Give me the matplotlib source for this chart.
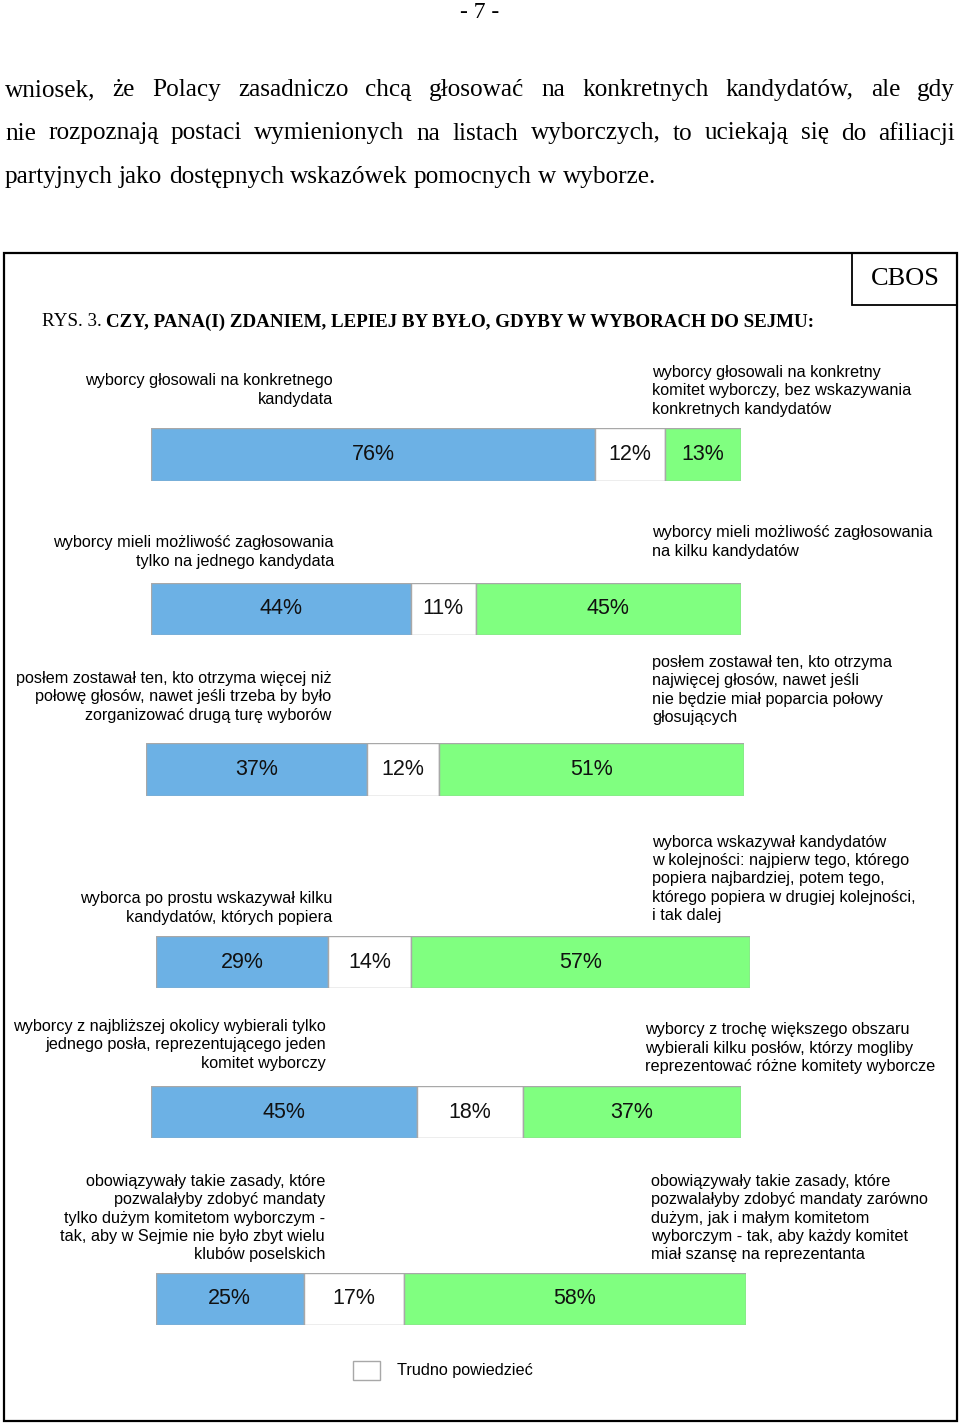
import matplotlib
matplotlib.use("Agg")
import matplotlib.pyplot as plt
from matplotlib.patches import Rectangle

# values for each question: [for first option, hard to say, for second option]
first_option = [76, 44, 37, 29, 45, 25]
hard_to_say = [12, 11, 12, 14, 18, 17]
second_option = [13, 45, 51, 57, 37, 58]

left_labels = [
    "wyborcy głosowali na konkretnego\nkandydata",
    "wyborcy mieli możliwość zagłosowania\ntylko na jednego kandydata",
    "posłem zostawał ten, kto otrzyma więcej niż\npołowę głosów, nawet jeśli trzeba by było\nzorganizować drugą turę wyborów",
    "wyborca po prostu wskazywał kilku\nkandydatów, których popiera",
    "wyborcy z najbliższej okolicy wybierali tylko\njednego posła, reprezentującego jeden\nkomitet wyborczy",
    "obowiązywały takie zasady, które\npozwalałyby zdobyć mandaty\ntylko dużym komitetom wyborczym -\ntak, aby w Sejmie nie było zbyt wielu\nklubów poselskich",
]
right_labels = [
    "wyborcy głosowali na konkretny\nkomitet wyborczy, bez wskazywania\nkonkretnych kandydatów",
    "wyborcy mieli możliwość zagłosowania\nna kilku kandydatów",
    "posłem zostawał ten, kto otrzyma\nnajwięcej głosów, nawet jeśli\nnie będzie miał poparcia połowy\ngłosujących",
    "wyborca wskazywał kandydatów\nw kolejności: najpierw tego, którego\npopiera najbardziej, potem tego,\nktórego popiera w drugiej kolejności,\ni tak dalej",
    "wyborcy z trochę większego obszaru\nwybierali kilku posłów, którzy mogliby\nreprezentować różne komitety wyborcze",
    "obowiązywały takie zasady, które\npozwalałyby zdobyć mandaty zarówno\ndużym, jak i małym komitetom\nwyborczym - tak, aby każdy komitet\nmiał szansę na reprezentanta",
]

intro_lines = [
    "wniosek, że Polacy zasadniczo chcą głosować na konkretnych kandydatów, ale gdy",
    "nie rozpoznają postaci wymienionych na listach wyborczych, to uciekają się do afiliacji",
    "partyjnych jako dostępnych wskazówek pomocnych w wyborze.",
]

BLUE = "#6cb1e5"
GREEN = "#80ff80"
EDGE = "#a8a8a8"
SERIF = "Liberation Serif"
SANS = "Liberation Sans"
LABEL_SIZE = 11.7

W, H = 960, 1424
fig = plt.figure(figsize=(W / 100, H / 100), dpi=100)
fig.patch.set_facecolor("white")


def px(x, y):
    # pixel coordinates (top-left origin) -> figure fraction
    return x / W, 1 - y / H


def put(x, y, s, **kw):
    fx, fy = px(x, y)
    return fig.text(fx, fy, s, **kw)


renderer = fig.canvas.get_renderer()

# page number
put(480, 12, "- 7 -", family=SERIF, fontsize=17, ha="center", va="center")

# justified intro paragraph
left_x, right_x = 5, 955
for i, line in enumerate(intro_lines):
    y = 90 + i * 43.5
    words = line.split(" ")
    objs = [put(0, y, w, family=SERIF, fontsize=18.2, va="center") for w in words]
    widths = [o.get_window_extent(renderer).width for o in objs]
    if i < len(intro_lines) - 1:
        gap = (right_x - left_x - sum(widths)) / (len(words) - 1)
    else:
        gap = objs[0].get_fontsize() * 100 / 72 * 0.25
    x = left_x
    for o, w in zip(objs, widths):
        o.set_position(px(x, y))
        x += w + gap

# frame and CBOS box
fig.add_artist(Rectangle(px(4, 1421), (957 - 4) / W, (1421 - 253) / H,
                         transform=fig.transFigure, fill=False, lw=1.6, ec="black"))
fig.add_artist(Rectangle(px(852, 305), (957 - 852) / W, (305 - 253) / H,
                         transform=fig.transFigure, fill=False, lw=1.3, ec="black"))
put(905, 279, "CBOS", family=SERIF, fontsize=19, ha="center", va="center")

# title: regular run followed by bold run
t1 = put(42, 322, "RYS. 3. ", family=SERIF, fontsize=13.7, va="center")
w1 = t1.get_window_extent(renderer).width
put(42 + w1, 322, "CZY, PANA(I) ZDANIEM, LEPIEJ BY BYŁO, GDYBY W WYBORACH DO SEJMU:",
    family=SERIF, fontsize=13.7, fontweight="bold", va="center")

# layout of each bar block (pixels)
bar_boxes = [(151, 428, 590, 53), (151, 583, 590, 52), (146, 743, 598, 53),
             (156, 936, 594, 52), (151, 1086, 590, 52), (156, 1273, 590, 52)]
left_anchor = [(333, 390), (334, 552), (331, 697), (332, 908), (326, 1045), (325, 1218)]
right_anchor = [(652, 391), (652, 542), (652, 690), (652, 879), (645, 1048), (651, 1218)]

for i in range(len(first_option)):
    x0, y0, bw, bh = bar_boxes[i]
    fx, fy = px(x0, y0 + bh)
    ax = fig.add_axes([fx, fy, bw / W, bh / H])
    vals = [first_option[i], hard_to_say[i], second_option[i]]
    cols = [BLUE, "white", GREEN]
    left = 0
    for v, c in zip(vals, cols):
        ax.barh(0, v, left=left, height=1, color=c, edgecolor=EDGE, lw=1)
        ax.text(left + v / 2, 0, f"{v}%", ha="center", va="center",
                family=SANS, fontsize=15.5, color="#111111")
        left += v
    ax.set_xlim(0, sum(vals))
    ax.set_ylim(-0.5, 0.5)
    ax.axis("off")

    lx, ly = left_anchor[i]
    put(lx, ly, left_labels[i], family=SANS, fontsize=LABEL_SIZE, ha="right",
        va="center", multialignment="right", linespacing=1.27)
    rx, ry = right_anchor[i]
    put(rx, ry, right_labels[i], family=SANS, fontsize=LABEL_SIZE, ha="left",
        va="center", multialignment="left", linespacing=1.27)

# legend
fig.add_artist(Rectangle(px(353, 1380), 27 / W, 19 / H, transform=fig.transFigure,
                         fc="white", ec=EDGE, lw=1))
put(397, 1370, "Trudno powiedzieć", family=SANS, fontsize=LABEL_SIZE, va="center")

fig.savefig("out.png", dpi=100)
